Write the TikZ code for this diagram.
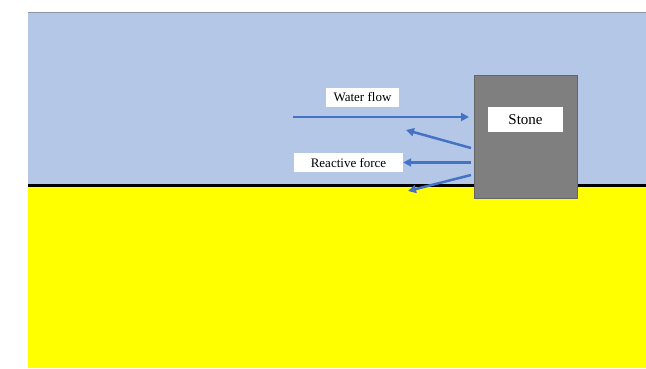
\documentclass[tikz,border=0pt]{standalone}
\usepackage{fontspec}
\setmainfont{Liberation Serif}
\usetikzlibrary{arrows.meta}
\definecolor{water}{HTML}{B4C7E7}
\definecolor{sand}{HTML}{FFFF00}
\definecolor{stonegray}{HTML}{7F7F7F}
\definecolor{arrowblue}{HTML}{4472C4}
\tikzset{
  lbl/.style={fill=white, inner sep=0pt, font=\fontsize{13}{15}\selectfont, anchor=center},
  force/.style={draw=arrowblue, line width=2.5pt, -{Triangle[length=8pt,width=8pt]}},
}
\begin{document}
\begin{tikzpicture}[x=1pt,y=-1pt]
\useasboundingbox (0,0) rectangle (646,368);
\fill[white] (0,0) rectangle (646,368);
% water and ground
\fill[water] (28,12) rectangle (646,185);
\draw[gray!70!water, line width=0.8pt] (28,12.4) -- (646,12.4);
\fill[sand] (28,185) rectangle (646,368);
\draw[black, line width=3pt] (28,185) -- (646,185);
% stone
\node[fill=stonegray, draw=stonegray!80!black, line width=0.4pt, minimum width=103pt, minimum height=123pt, inner sep=0pt] (stone) at (525.5,136.5) {};
\node[lbl, font=\fontsize{15}{17}\selectfont, minimum width=75pt, minimum height=25pt] (stonelbl) at (525.5,119.5) {Stone};
% labels
\node[lbl, minimum width=73pt, minimum height=19pt] (waterlbl) at (362.5,97.5) {Water flow};
\node[lbl, minimum width=109pt, minimum height=19pt] (reactlbl) at (348.5,162.5) {Reactive force};
% arrow endpoints
\coordinate (wstart) at (293,117);
\coordinate (wend) at (469,117);
\coordinate (a1s) at (471,148);
\coordinate (a1e) at (406,130);
\coordinate (a3s) at (471,162.5);
\coordinate (a3e) at (408,191);
\coordinate (a4s) at (471,175);
% arrows
\draw[force] (wstart) -- (wend);
\draw[force] (a1s) -- (a1e);
\draw[force] (a3s) -- (reactlbl.east);
\draw[force] (a4s) -- (a3e);
\end{tikzpicture}
\end{document}
